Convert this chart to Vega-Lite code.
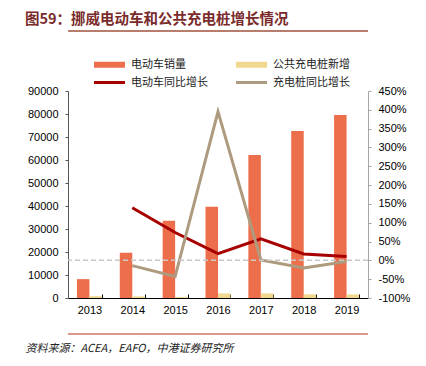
{
  "$schema": "https://vega.github.io/schema/vega-lite/v6.json",
  "width": 300,
  "height": 207,
  "autosize": "none",
  "padding": {"left": 68, "top": 91, "right": 58, "bottom": 68},
  "background": "white",
  "config": {
    "view": {"stroke": null},
    "axis": {"labelFont": "Liberation Sans", "labelFontSize": 11, "labelColor": "#000", "grid": false}
  },
  "title": {
    "text": "图59：挪威电动车和公共充电桩增长情况",
    "anchor": "start",
    "frame": "group",
    "dx": -43,
    "dy": 18,
    "offset": 10,
    "baseline": "alphabetic",
    "font": "Noto Sans CJK SC",
    "fontSize": 14.5,
    "fontWeight": "bold",
    "color": "#7a2b2b"
  },
  "datasets": {
    "bars": [
      {"year": "2013", "series": "电动车销量", "value": 8200},
      {"year": "2013", "series": "公共充电桩新增", "value": 800},
      {"year": "2014", "series": "电动车销量", "value": 19700},
      {"year": "2014", "series": "公共充电桩新增", "value": 690},
      {"year": "2015", "series": "电动车销量", "value": 33600},
      {"year": "2015", "series": "公共充电桩新增", "value": 400},
      {"year": "2016", "series": "电动车销量", "value": 39700},
      {"year": "2016", "series": "公共充电桩新增", "value": 1980},
      {"year": "2017", "series": "电动车销量", "value": 62200},
      {"year": "2017", "series": "公共充电桩新增", "value": 2000},
      {"year": "2018", "series": "电动车销量", "value": 72600},
      {"year": "2018", "series": "公共充电桩新增", "value": 1600},
      {"year": "2019", "series": "电动车销量", "value": 79600},
      {"year": "2019", "series": "公共充电桩新增", "value": 1560}
    ],
    "growth": [
      {"year": "2014", "series": "电动车同比增长", "growth": 140},
      {"year": "2015", "series": "电动车同比增长", "growth": 74},
      {"year": "2016", "series": "电动车同比增长", "growth": 18},
      {"year": "2017", "series": "电动车同比增长", "growth": 57},
      {"year": "2018", "series": "电动车同比增长", "growth": 17},
      {"year": "2019", "series": "电动车同比增长", "growth": 10},
      {"year": "2014", "series": "充电桩同比增长", "growth": -14},
      {"year": "2015", "series": "充电桩同比增长", "growth": -43},
      {"year": "2016", "series": "充电桩同比增长", "growth": 395},
      {"year": "2017", "series": "充电桩同比增长", "growth": 1},
      {"year": "2018", "series": "充电桩同比增长", "growth": -20},
      {"year": "2019", "series": "充电桩同比增长", "growth": -3}
    ],
    "one": [{}]
  },
  "layer": [
    {
      "data": {"name": "bars"},
      "mark": {"type": "bar"},
      "encoding": {
        "x": {
          "field": "year", "type": "ordinal",
          "scale": {"paddingInner": 0.417, "paddingOuter": 0.2085},
          "axis": {
            "title": "资料来源：ACEA，EAFO，中港证券研究所",
            "titleFont": "Noto Sans CJK SC",
            "titleFontSize": 11,
            "titleFontStyle": "italic",
            "titleFontWeight": "normal",
            "titleColor": "#222",
            "titleAlign": "left",
            "titleAnchor": "start",
            "titleBaseline": "alphabetic",
            "titleX": -43,
            "titleY": 53,
            "labelAngle": 0,
            "labelPadding": 10,
            "tickBand": "extent",
            "tickSize": -4,
            "tickColor": "#000",
            "domainColor": "#000"
          }
        },
        "xOffset": {
          "field": "series", "type": "nominal",
          "scale": {"domain": ["电动车销量", "公共充电桩新增"], "paddingInner": 0, "paddingOuter": 0}
        },
        "y": {
          "field": "value", "type": "quantitative",
          "scale": {"domain": [0, 90000], "nice": false, "zero": true},
          "axis": {
            "title": null,
            "values": [0, 10000, 20000, 30000, 40000, 50000, 60000, 70000, 80000, 90000],
            "format": "d",
            "tickSize": 3,
            "labelPadding": 7,
            "domainColor": "#555",
            "tickColor": "#555",
            "labelFlush": false,
            "labelOverlap": false
          }
        },
        "color": {
          "field": "series", "type": "nominal",
          "scale": {
            "domain": ["电动车销量", "公共充电桩新增", "电动车同比增长", "充电桩同比增长"],
            "range": ["#ed6e4b", "#f0d88e", "#a80000", "#ae9a7e"]
          },
          "legend": {
            "title": null,
            "orient": "none",
            "direction": "horizontal",
            "legendX": 36,
            "legendY": -32,
            "columns": 2,
            "columnPadding": 16,
            "rowPadding": -19,
            "padding": 0,
            "symbolType": "stroke",
            "symbolSize": 961,
            "symbolStrokeWidth": 4,
            "labelFont": "Noto Sans CJK SC",
            "labelFontSize": 11,
            "labelColor": "#222",
            "labelOffset": 16,
            "encode": {
              "symbols": {
                "update": {
                  "stroke": {"signal": "scale('color', datum.value)"},
                  "strokeWidth": {"signal": "indexof(['电动车销量','公共充电桩新增'], datum.value) >= 0 ? 6 : 3"},
                  "opacity": {"value": 1}
                }
              }
            }
          }
        }
      }
    },
    {
      "data": {"name": "growth"},
      "mark": {"type": "line", "strokeWidth": 3},
      "encoding": {
        "x": {"field": "year", "type": "ordinal"},
        "y": {
          "field": "growth", "type": "quantitative",
          "scale": {"domain": [-100, 450], "nice": false},
          "axis": {
            "orient": "right",
            "title": null,
            "values": [-100, -50, 0, 50, 100, 150, 200, 250, 300, 350, 400, 450],
            "labelExpr": "datum.value + '%'",
            "tickSize": 3,
            "labelPadding": 7,
            "domainColor": "#a6a6a6",
            "tickColor": "#a6a6a6",
            "labelFlush": false,
            "labelOverlap": false
          }
        },
        "color": {
          "field": "series", "type": "nominal",
          "scale": {
            "domain": ["电动车销量", "公共充电桩新增", "电动车同比增长", "充电桩同比增长"],
            "range": ["#ed6e4b", "#f0d88e", "#a80000", "#ae9a7e"]
          }
        }
      }
    },
    {
      "data": {"name": "one"},
      "mark": {"type": "rule", "color": "#c8c8c8", "strokeWidth": 1.5, "strokeDash": [5, 3]},
      "encoding": {"y": {"datum": 0, "type": "quantitative", "scale": {"domain": [-100, 450], "nice": false}, "axis": null}}
    },
    {
      "data": {"name": "one"},
      "mark": {"type": "rule", "color": "#a0523c", "strokeWidth": 1.5},
      "encoding": {"y": {"datum": 116087, "type": "quantitative", "scale": {"domain": [0, 90000], "nice": false}, "axis": null}}
    },
    {
      "data": {"name": "one"},
      "mark": {"type": "rule", "color": "#d99a8b", "strokeWidth": 2},
      "encoding": {"y": {"datum": -15652, "type": "quantitative", "scale": {"domain": [0, 90000], "nice": false}, "axis": null}}
    }
  ],
  "resolve": {"scale": {"y": "independent"}, "axis": {"y": "independent"}}
}
